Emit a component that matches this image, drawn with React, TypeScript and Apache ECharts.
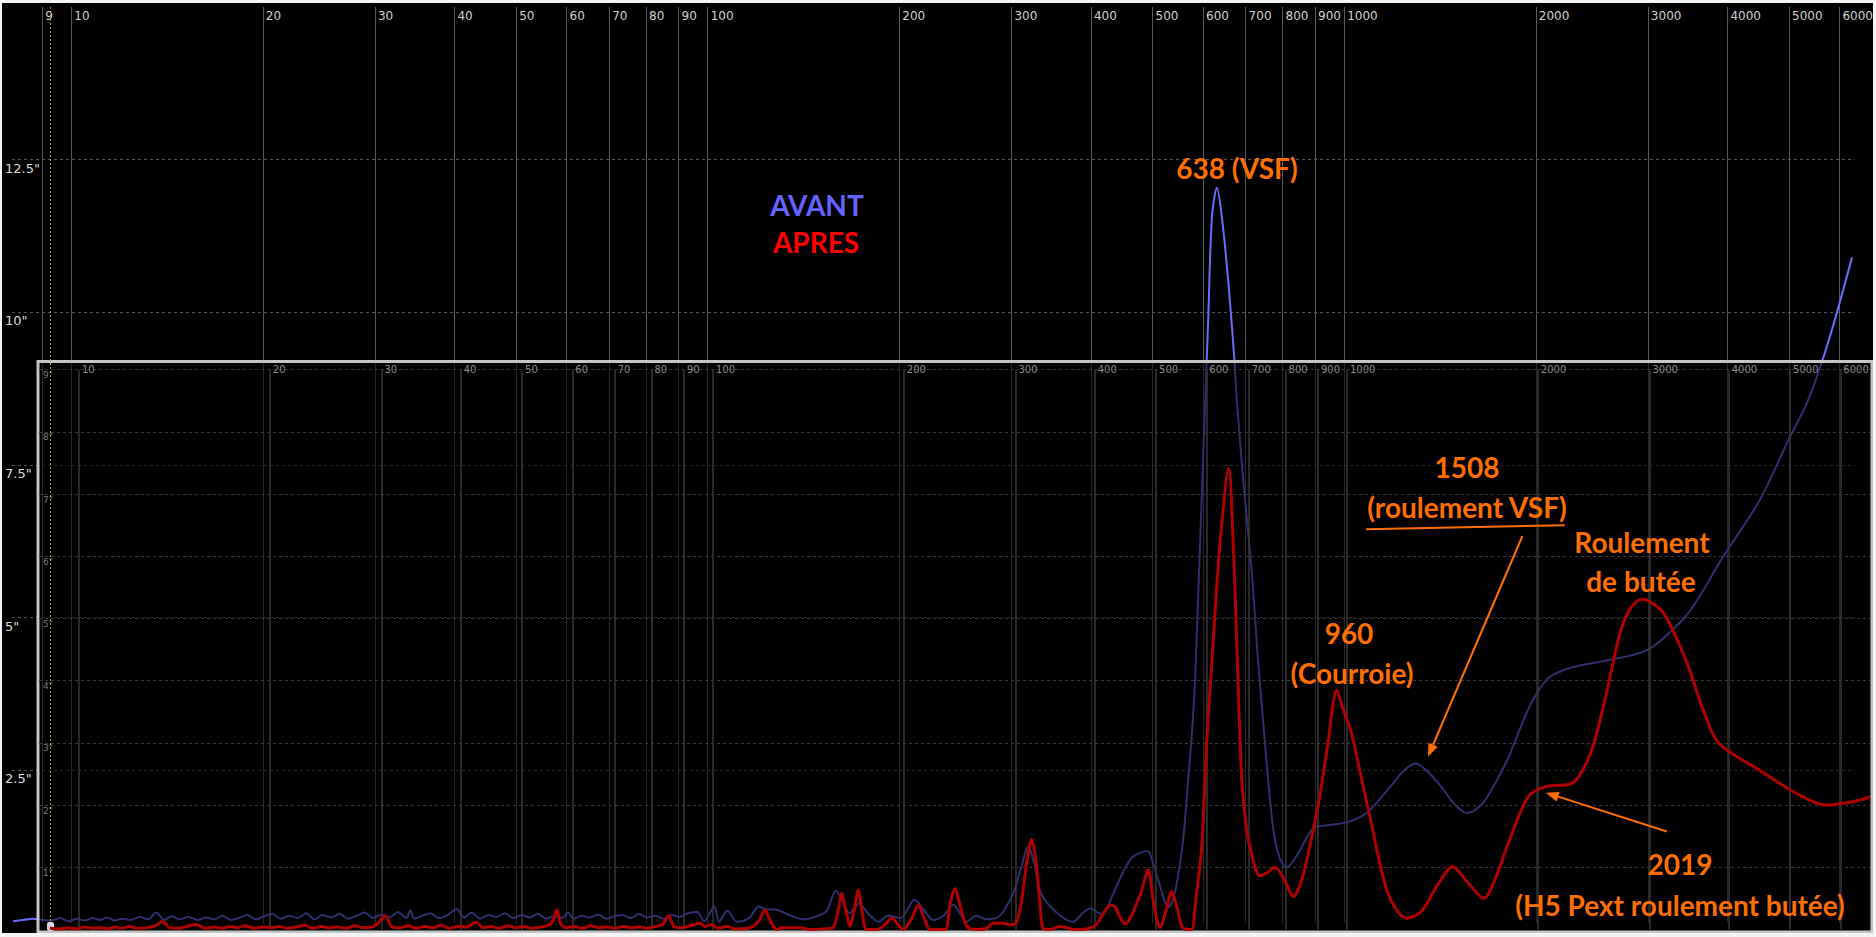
import React, { useEffect, useRef } from "react";
import * as echarts from "echarts";

// ---------- DATA ----------
const outerXLabels = [9, 10, 20, 30, 40, 50, 60, 70, 80, 90, 100, 200, 300, 400, 500, 600, 700, 800, 900, 1000, 2000, 3000, 4000, 5000, 6000];
const insetXLabels = [10, 20, 30, 40, 50, 60, 70, 80, 90, 100, 200, 300, 400, 500, 600, 700, 800, 900, 1000, 2000, 3000, 4000, 5000, 6000];

// AVANT (blue) - frequency (Hz) / amplitude (outer scale)
const avantFreq = [8.1, 8.4, 8.7, 9.0, 9.3, 9.6, 9.9, 10.2, 10.5, 10.8, 11.1, 11.4, 11.7, 12.0, 12.4, 12.8, 13.2, 13.6, 14.0, 14.4, 14.8, 15.3, 15.8, 16.3, 16.8, 17.3, 17.8, 18.3, 18.9, 19.5, 20.1, 20.7, 21.3, 22.0, 22.7, 23.4, 24.1, 24.8, 25.6, 26.4, 27.2, 28.0, 28.9, 29.8, 30.7, 31.6, 32.6, 33.6, 34.1, 34.6, 35.6, 36.7, 37.8, 39.0, 40.3, 41.4, 42.6, 43.9, 45.2, 46.6, 48.0, 49.5, 51.0, 52.5, 54.1, 55.7, 57.4, 59.1, 60.3, 61.5, 63.4, 65.3, 67.3, 69.3, 71.4, 73.5, 75.7, 78.0, 80.3, 82.7, 85.2, 87.8, 90.4, 93.1, 96.3,
  98.7, 102.4, 104.2, 107.3, 111.2, 116.1, 120.4, 123.9, 127.5, 131.7, 136.6, 141.6, 147.3, 153.8, 158.9, 162.9, 167.1, 172.6, 178.9, 185.5, 192.3, 200.9, 211.3, 219.0, 226.2, 234.5, 243.1, 249.4, 254.8, 264.2, 273.8, 283.9, 291.1, 302.9, 311.7, 318.5, 325.5, 333.8, 352.4, 374.6, 389.8, 399.7, 410.0, 417.4, 432.8, 448.6, 465.0, 490.9, 501.6, 510.7, 529.4, 539.0, 548.8, 558.9, 569.0, 577.2, 583.4, 594.1, 604.9, 611.5, 619.7, 631.0, 642.4, 657.9, 672.2, 678.1, 696.1, 715.8, 732.2, 750.9, 773.7, 792.6, 811.9, 846.6, 894.0, 942.4, 1020, 1090, 1181, 1243, 1296, 1346, 1421, 1489, 1560, 1606, 1665, 1804, 1954, 2087, 2213, 2352, 2650, 2946, 3147, 3499, 3940, 4500, 4989, 5352, 5772, 6279];
const avantVal = [0.03, 0.05, 0.07, 0.05, 0.04, 0.08, 0.03, 0.07, 0.04, 0.08, 0.05, 0.09, 0.04, 0.07, 0.05, 0.10, 0.06, 0.17, 0.05, 0.11, 0.06, 0.10, 0.05, 0.09, 0.06, 0.12, 0.05, 0.08, 0.13, 0.06, 0.11, 0.15, 0.07, 0.12, 0.08, 0.16, 0.06, 0.13, 0.09, 0.15, 0.07, 0.11, 0.17, 0.08, 0.14, 0.09, 0.18, 0.08, 0.21, 0.07, 0.12, 0.16, 0.08, 0.13, 0.23, 0.09, 0.17, 0.07, 0.13, 0.10, 0.16, 0.08, 0.13, 0.09, 0.15, 0.07, 0.11, 0.08, 0.17, 0.07, 0.12, 0.09, 0.14, 0.07, 0.11, 0.13, 0.08, 0.15, 0.09, 0.12, 0.07, 0.13, 0.10, 0.16, 0.18,
  0.03, 0.27, 0.02, 0.2, 0.02, 0.08, 0.27, 0.22, 0.22, 0.17, 0.1, 0.06, 0.1, 0.2, 0.53, 0.35, 0.16, 0.32, 0.15, 0.02, 0.12, 0.08, 0.38, 0.2, 0.05, 0.12, 0.3, 0.15, 0.02, 0.12, 0.06, 0.08, 0.18, 0.52, 0.95, 1.25, 1.0, 0.49, 0.18, 0.02, 0.18, 0.24, 0.17, 0.15, 0.46, 0.82, 1.08, 1.18, 0.95, 0.69, 0.26, 0.4, 0.8, 1.4, 2.37, 3.2, 4.06, 6.31, 8.56, 9.9, 11.56, 12.04, 11.56, 10.47, 9.22, 8.56, 7.1, 5.75, 4.3, 2.94, 1.53, 1.05, 0.91, 1.14, 1.55, 1.6, 1.66, 1.82, 2.23, 2.5, 2.61, 2.5, 2.23, 1.95, 1.8, 1.85, 2.01, 2.67, 3.54, 4.0, 4.14, 4.22, 4.32, 4.44, 4.63, 5.12, 6.0, 6.93, 7.91, 8.55, 9.54, 10.9];

// APRES (red) - frequency (Hz) / amplitude (inset scale)
const apresFreq = [9.0, 9.3, 9.6, 9.9, 10.2, 10.5, 10.8, 11.1, 11.4, 11.7, 12.0, 12.4, 12.8, 13.2, 13.55, 13.9, 14.4, 14.8, 15.3, 15.8, 16.3, 16.8, 17.3, 17.8, 18.3, 18.9, 19.5, 20.1, 20.7, 21.3, 22.0, 22.7, 23.4, 24.1, 24.8, 25.6, 26.4, 27.2, 28.0, 28.9, 29.5, 30.4, 31.2, 32.1, 33.1, 34.1, 35.1, 36.2, 37.3, 38.4, 39.6, 40.8, 41.6, 42.3, 43.4, 44.7, 46.0, 47.4, 48.8, 50.3, 51.8, 53.4, 55.0, 56.0, 56.7, 57.5, 58.6, 60.4, 62.2, 64.1, 66.0, 68.0, 70.0, 72.1, 74.3, 76.5, 78.8, 81.2, 83.3, 85.1, 86.8, 89.4, 92.1, 95.4,
  97.1, 99.6, 101.8, 105.2, 108.3, 113.6, 117.8, 120.8, 123.0, 126.2, 128.5, 133.2, 137.2, 142.2, 149.1, 154.6, 157.5, 159.6, 162.1, 164.5, 166.9, 169.5, 171.8, 174.8, 181.5, 186.8, 191.4, 195.8, 199.4, 205.3, 210.8, 216.0, 220.0, 232.3, 236.5, 240.8, 245.2, 251.5, 260.8, 270.5, 276.4, 286.6, 294.1, 300.6, 307.2, 312.8, 318.2, 323.2, 328.0, 331.5, 340.0, 352.6, 361.7, 369.6, 379.2, 400.6, 412.4, 423.0, 430.8, 438.5, 446.7, 471.5, 486.0, 494.3, 501.6, 507.0, 518.2, 529.0, 539.4, 549.2, 559.3, 568.9, 577.9, 590.0, 600.8, 615.4, 630.5, 650.7, 661.7, 671.4, 682.2, 693.0, 703.1, 729.1, 750.6, 769.9, 798.4, 822.8, 853.3, 906.6, 933.3, 963.6, 982.0, 1017, 1048, 1087, 1161, 1242, 1310, 1387, 1468, 1552, 1644, 1712, 1781, 1930, 2063, 2264, 2421, 2552, 2695, 2795, 2919, 3028, 3162, 3425, 3662, 3862, 4475, 5114, 5689, 6248, 6683];
const apresVal = [0.02, 0.01, 0.03, 0.01, 0.04, 0.02, 0.03, 0.01, 0.04, 0.02, 0.05, 0.02, 0.03, 0.06, 0.13, 0.03, 0.02, 0.05, 0.08, 0.02, 0.04, 0.02, 0.05, 0.03, 0.06, 0.02, 0.04, 0.03, 0.05, 0.02, 0.04, 0.07, 0.02, 0.05, 0.03, 0.04, 0.02, 0.06, 0.03, 0.04, 0.08, 0.22, 0.04, 0.03, 0.06, 0.02, 0.05, 0.03, 0.07, 0.02, 0.05, 0.04, 0.08, 0.12, 0.03, 0.05, 0.02, 0.06, 0.03, 0.05, 0.02, 0.04, 0.07, 0.15, 0.32, 0.10, 0.03, 0.05, 0.02, 0.06, 0.03, 0.04, 0.02, 0.05, 0.03, 0.04, 0.02, 0.05, 0.08, 0.22, 0.05, 0.03, 0.06, 0.10,
  0.05, 0.08, 0.02, 0.05, 0.01, 0.02, 0.12, 0.31, 0.15, 0, 0.03, 0.03, 0.03, 0, 0.01, 0.03, 0.3, 0.58, 0.3, 0.05, 0.3, 0.63, 0.3, 0, 0, 0.08, 0.18, 0.08, 0, 0.15, 0.39, 0.15, 0, 0, 0.4, 0.66, 0.4, 0.05, 0, 0.02, 0.1, 0.1, 0.08, 0.1, 0.5, 1.1, 1.45, 1.1, 0.4, 0.02, 0, 0.05, 0.03, 0, 0, 0.06, 0.25, 0.39, 0.36, 0.2, 0.09, 0.55, 0.96, 0.5, 0.15, 0.03, 0.3, 0.61, 0.35, 0.05, 0, 0, 0.5, 1.33, 2.99, 4.65, 6.19, 7.41, 6.19, 4.37, 2.44, 1.7, 1.33, 0.86, 0.92, 1.0, 0.78, 0.53, 0.89, 2.16, 3.0, 3.85, 3.6, 3.15, 2.55, 1.81, 0.58, 0.18, 0.29, 0.7, 1.01, 0.75, 0.5, 0.8, 1.28, 2.13, 2.3, 2.35, 2.83, 3.69, 4.76, 5.15, 5.31, 5.25, 5.08, 4.33, 3.48, 2.99, 2.56, 2.19, 2.0, 2.05, 2.13];

// ---------- STYLE ----------
const FONT = "DejaVu Sans";
const ORANGE = "#ff6f00";
const L10 = (v: number) => Math.log10(v);

function arrow(x1: number, y1: number, x2: number, y2: number) {
  const dx = x2 - x1, dy = y2 - y1;
  const len = Math.hypot(dx, dy);
  const ux = dx / len, uy = dy / len;
  const hl = 13, hw = 5;
  const bx = x2 - ux * hl, by = y2 - uy * hl;
  return [
    { type: "line", z: 10, silent: true, shape: { x1, y1, x2: bx, y2: by }, style: { stroke: ORANGE, lineWidth: 2 } },
    { type: "polygon", z: 10, silent: true, shape: { points: [[x2, y2], [bx - uy * hw, by + ux * hw], [bx + uy * hw, by - ux * hw]] }, style: { fill: ORANGE } },
  ];
}
function label(text: string, x: number, y: number, color = ORANGE) {
  return {
    type: "text", z: 10, x, y, silent: true,
    style: { text, fill: color, font: "bold 28px Lato", align: "center", verticalAlign: "middle", textAlign: "center", textVerticalAlign: "middle" },
  };
}

export default function App() {
  const ref = useRef<HTMLDivElement>(null);
  useEffect(() => {
    if (!ref.current) return;
    const chart = echarts.init(ref.current, null, { renderer: "svg" });
    const option: any = {
      animation: false,
      backgroundColor: "#000",
      grid: [
        { left: 12, right: 14, top: 7, bottom: 14 },
        { left: 39, right: 6, top: 369.7, bottom: 7.5 },
      ],
      xAxis: [
        {
          type: "value", gridIndex: 0, min: L10(8.07), max: L10(6340), position: "top",
          axisLine: { show: false },
          axisTick: { show: false, customValues: outerXLabels.map(L10) },
          splitLine: { show: true, lineStyle: { color: "#5a5a5a", width: 1, type: "solid" } },
          axisLabel: {
            customValues: outerXLabels.map(L10), inside: true, align: "left", verticalAlign: "top", margin: 3,
            padding: [0, 0, 0, 3], color: "#d0d0d0", fontFamily: FONT, fontSize: 12,
            formatter: (v: number) => String(Math.round(Math.pow(10, v))),
          },
        },
        {
          type: "value", gridIndex: 1, min: L10(8.65), max: L10(6683), position: "top", z: 4,
          axisLine: { show: false },
          axisTick: { show: false, customValues: insetXLabels.map(L10) },
          splitLine: { show: true, lineStyle: { color: "#383838", width: 1.5, type: "solid" } },
          axisLabel: {
            customValues: insetXLabels.map(L10), inside: true, align: "left", verticalAlign: "middle", margin: 0,
            padding: [0, 0, 0, 3], color: "#8a8a8a", fontFamily: FONT, fontSize: 10,
            formatter: (v: number) => String(Math.round(Math.pow(10, v))),
          },
        },
      ],
      yAxis: [
        {
          type: "value", gridIndex: 0, min: 0, max: 15, interval: 2.5,
          axisLine: { show: false }, axisTick: { show: false },
          splitLine: { show: true, showMinLine: false, showMaxLine: false, lineStyle: { color: "#555", type: [3, 3], width: 1 } },
          axisLabel: {
            align: "left", verticalAlign: "top", margin: 7, padding: [2, 0, 0, 0],
            color: "#dcdcdc", fontFamily: FONT, fontSize: 13,
            formatter: (v: number) => (v > 0 && v < 15 ? `${v}"` : ""),
          },
        },
        {
          type: "value", gridIndex: 1, min: 0, max: 9, interval: 1, z: 4,
          axisLine: { show: false }, axisTick: { show: false },
          splitLine: { show: true, showMinLine: false, lineStyle: { color: "#383838", type: [3, 3], width: 1 } },
          axisLabel: {
            inside: true, align: "left", verticalAlign: "top", margin: 4, padding: [1, 0, 0, 0],
            color: "#7c7c7c", fontFamily: FONT, fontSize: 9,
            formatter: (v: number) => (v > 0 ? `${v}"` : ""),
          },
        },
      ],
      series: [
        {
          name: "AVANT", type: "line", xAxisIndex: 0, yAxisIndex: 0, z: 2,
          showSymbol: false, smooth: 0.3, clip: true,
          lineStyle: { color: "#6c6cff", width: 2 },
          data: avantFreq.map((f, i) => [L10(f), avantVal[i]]),
        },
        {
          name: "APRES", type: "line", xAxisIndex: 1, yAxisIndex: 1, z: 6,
          showSymbol: false, smooth: 0.3, clip: true,
          lineStyle: { color: "#b00000", width: 3 },
          data: apresFreq.map((f, i) => [L10(f), apresVal[i]]),
        },
      ],
      graphic: [
        // screenshot frame
        { type: "rect", z: 20, silent: true, shape: { x: 0, y: 0, width: 1876, height: 3 }, style: { fill: "#f4f4f4" } },
        { type: "rect", z: 20, silent: true, shape: { x: 0, y: 0, width: 2, height: 937 }, style: { fill: "#f4f4f4" } },
        { type: "rect", z: 20, silent: true, shape: { x: 0, y: 933, width: 1876, height: 4 }, style: { fill: "#f4f4f4" } },
        { type: "rect", z: 20, silent: true, shape: { x: 1873, y: 0, width: 3, height: 937 }, style: { fill: "#f4f4f4" } },
        // inset overlay
        { type: "rect", z: 3, silent: true, shape: { x: 38, y: 361.5, width: 1834, height: 570.5 }, style: { fill: "rgba(0,0,0,0.56)", stroke: "#c6c6c6", lineWidth: 3 } },
        // cursor
        { type: "line", z: 5, silent: true, shape: { x1: 50.5, y1: 7, x2: 50.5, y2: 926 }, style: { stroke: "#b8a400", lineWidth: 1, lineDash: [2, 2] } },
        { type: "rect", z: 5, silent: true, shape: { x: 47, y: 922, width: 7, height: 9, r: 2 }, style: { fill: "#d8d8d8" } },
        // annotations
        label("638 (VSF)", 1237, 168),
        label("AVANT", 817, 205, "#6464ff"),
        label("APRES", 816, 242, "#ff0000"),
        label("960", 1349, 633),
        label("(Courroie)", 1352, 673),
        label("1508", 1467, 467),
        label("(roulement VSF)", 1467, 507),
        { type: "line", z: 10, silent: true, shape: { x1: 1366, y1: 529.3, x2: 1564.7, y2: 525.3 }, style: { stroke: ORANGE, lineWidth: 2 } },
        ...arrow(1522.4, 536, 1428, 756.7),
        label("Roulement", 1642, 542),
        label("de butée", 1641, 581),
        ...arrow(1666.8, 831.5, 1545.8, 792.7),
        label("2019", 1680, 864),
        label("(H5 Pext roulement butée)", 1680, 905),
      ],
    };
    chart.setOption(option);
    return () => chart.dispose();
  }, []);
  return <div ref={ref} style={{ position: "fixed", left: 0, top: 0, width: 1876, height: 937 }} />;
}
